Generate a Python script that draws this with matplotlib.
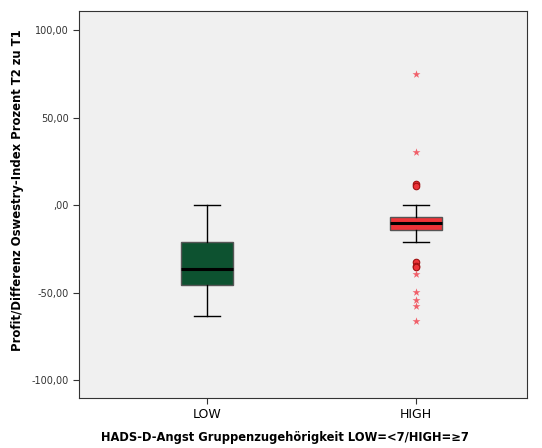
import matplotlib.pyplot as plt

# groups and box statistics (Oswestry difference T2 - T1 in percent)
groups = ['LOW', 'HIGH']
medians = [-36.6, -10.1]
q1 = [-45.5, -14.5]
q3 = [-21.1, -6.7]
whisk_low = [-63.4, -21.0]
whisk_high = [0.0, 0.0]
box_colors = ['#0d5230', '#ee3338']

# outliers of the HIGH group: circles = mild, stars = extreme
mild_high = [11.8, 10.6, -32.8, -34.6, -35.6]
extreme_high = [74.7, 30.3, -39.6, -49.5, -54.3, -57.7, -66.3]

yticks = [100, 50, 0, -50, -100]
ytick_labels = ['100,00', '50,00', ',00', '-50,00', '-100,00']

stats = []
for i, g in enumerate(groups):
    stats.append({'label': g, 'med': medians[i], 'q1': q1[i], 'q3': q3[i],
                  'whislo': whisk_low[i], 'whishi': whisk_high[i], 'fliers': []})

fig = plt.figure(figsize=(5.42, 4.48), dpi=100)
ax = fig.add_axes([79 / 542, 50 / 448, 448 / 542, 387 / 448])
ax.set_facecolor('#f0f0f0')

bp = ax.bxp(stats, positions=[1, 2], widths=0.25, patch_artist=True,
            showfliers=False,
            boxprops=dict(edgecolor='#555555', linewidth=1.0),
            medianprops=dict(color='black', linewidth=2.2),
            whiskerprops=dict(color='black', linewidth=1.0),
            capprops=dict(color='black', linewidth=1.0), capwidths=0.125)
for patch, c in zip(bp['boxes'], box_colors):
    patch.set_facecolor(c)

ax.scatter([2] * len(mild_high), mild_high, s=22, marker='o',
           facecolor='#ee3338', edgecolor='#a01010', linewidth=0.8, zorder=3)
ax.scatter([2] * len(extreme_high), extreme_high, s=36, marker='*',
           color='#f0606a', linewidth=0, zorder=3)

ax.set_xlim(0.388, 2.531)
ax.set_ylim(-110.3, 110.9)
ax.set_xticks([1, 2])
ax.set_xticklabels(groups, fontsize=9)
ax.set_yticks(yticks)
ax.set_yticklabels(ytick_labels, fontsize=7, color='#333333')
ax.tick_params(axis='both', length=4, width=0.8, color='#333333')
for s in ax.spines.values():
    s.set_color('#333333')
    s.set_linewidth(0.8)

ax.set_xlabel('HADS-D-Angst Gruppenzugehörigkeit LOW=<7/HIGH=≥7',
              fontsize=8.3, fontweight='bold')
ax.set_ylabel('Profit/Differenz Oswestry-Index Prozent T2 zu T1',
              fontsize=8.4, fontweight='bold')
ax.xaxis.set_label_coords(0.46, -0.085)
ax.yaxis.set_label_coords(-0.123, 0.537)

fig.savefig('out.png', dpi=100)
